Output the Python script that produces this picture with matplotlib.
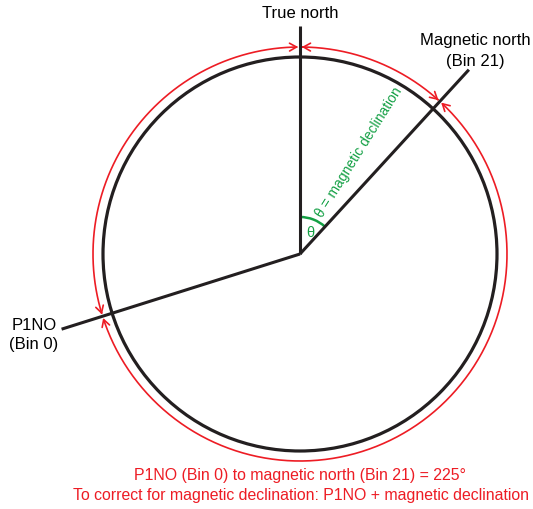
import numpy as np
import matplotlib.pyplot as plt
from matplotlib.patches import Circle, FancyArrowPatch, Arc
from matplotlib.path import Path

plt.rcParams['font.family'] = ['Liberation Sans', 'DejaVu Sans']

# bearings (deg clockwise from true north) and lengths of the three rays
ray_names = ["True north", "Magnetic north\n(Bin 21)", "P1NO\n(Bin 0)"]
ray_bearing = [0, 42.5, 252.5]
ray_length = [228, 250, 250]

# red arcs between the rays (start, end bearing)
arc_spans = [(252.5, 360), (0, 42.5), (42.5, 252.5)]

note_lines = ["P1NO (Bin 0) to magnetic north (Bin 21) = 225\u00b0",
              "To correct for magnetic declination: P1NO + magnetic declination"]

cx, cy = 300, 255
r_black, r_red = 197, 207
red = "#ed1c24"
green = "#14a045"

fig = plt.figure(figsize=(5.33, 5.10), dpi=100)
ax = fig.add_axes([0, 0, 1, 1])
ax.set_xlim(0, 533)
ax.set_ylim(510, 0)
ax.set_aspect('equal')
ax.axis('off')


def pt(bearing, r):
    a = np.radians(bearing)
    return cx + r * np.sin(a), cy - r * np.cos(a)


ax.add_patch(Circle((cx, cy), r_black, fill=False, ec='#231f20', lw=2.3))

for b, L in zip(ray_bearing, ray_length):
    x1, y1 = pt(b, L)
    ax.plot([cx, x1], [cy, y1], color='#231f20', lw=2.2, solid_capstyle='butt')

# red arcs with open arrowheads pointing at each ray
gap = 0.5
for b0, b1 in arc_spans:
    t = np.linspace(b0 + gap, b1 - gap, 300)
    p = Path([pt(v, r_red) for v in t])
    arr = FancyArrowPatch(path=p, arrowstyle='<->,head_length=5,head_width=2.8',
                          color=red, lw=1.2, mutation_scale=1)
    ax.add_patch(arr)

# labels
ax.text(300, 13, ray_names[0], ha='center', va='center', fontsize=12)
ax.text(475, 51, ray_names[1], ha='center', va='center', fontsize=12,
        linespacing=1.45)
ax.text(34, 335, ray_names[2], ha='center', va='center', fontsize=12,
        linespacing=1.4)

# declination angle
ax.add_patch(Arc((cx, cy), 74, 74, angle=0, theta1=-90, theta2=-90 + ray_bearing[1],
                 color=green, lw=1.8))
ax.text(310, 233, "\u03b8", color=green, fontsize=10.5, ha='center', va='center')
ax.text(359, 152, "\u03b8 = magnetic declination", color=green, fontsize=10,
        rotation=58, rotation_mode='anchor', ha='center', va='center')

ax.text(300, 476, note_lines[0], color=red, ha='center', va='center', fontsize=11.4)
ax.text(301, 496, note_lines[1], color=red, ha='center', va='center', fontsize=11.4)

fig.savefig("out.png", dpi=100)
